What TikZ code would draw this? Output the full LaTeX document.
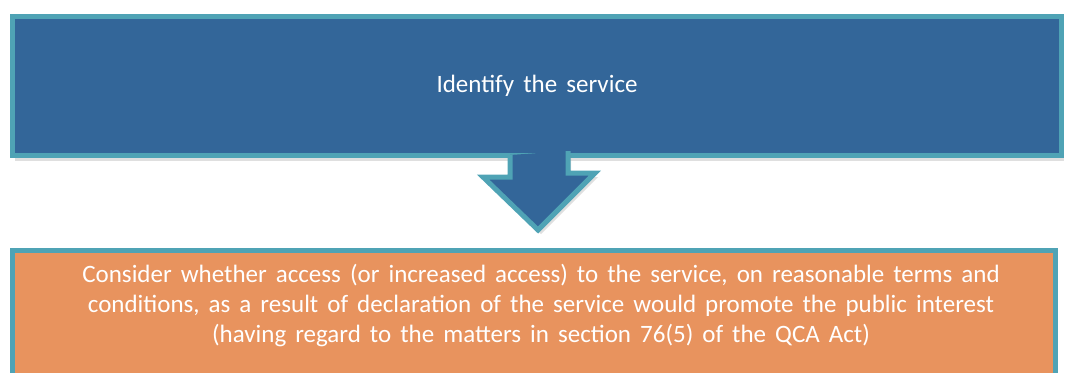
\documentclass[tikz,border=0pt]{standalone}
\usepackage{fontspec}
\setmainfont{Carlito}
\newfontfamily\stepfont[WordSpace=1.6]{Carlito}
\usepackage{xcolor}
\usetikzlibrary{positioning, shadows}
\definecolor{edgeteal}{HTML}{4FA3B5}
\definecolor{stepblue}{HTML}{336699}
\definecolor{steporange}{HTML}{E8935E}
\tikzset{
  stepbox/.style={rectangle, draw=edgeteal, line width=5pt,
                  drop shadow={opacity=0.25, shadow xshift=2pt, shadow yshift=-5pt}},
  steptext/.style={text=white, align=center, inner sep=0pt,
                   font=\stepfont\fontsize{25}{30}\selectfont},
  downarrow/.style={draw=edgeteal, line width=5pt, fill=stepblue, line join=miter,
                    drop shadow={opacity=0.25, shadow xshift=3pt, shadow yshift=-4pt}},
}

\begin{document}
\begin{tikzpicture}[x=1pt, y=-1pt]
\useasboundingbox (0,0) rectangle (1065,372);
% first step
\node[stepbox, steptext, fill=stepblue, minimum width=1049pt, minimum height=139pt] (service) at (537,86) {Identify the service};
% second step, runs off the bottom edge; its text sits near the top
\node[stepbox, fill=steporange, minimum width=1043pt, minimum height=150pt] (consider) at (534,325.5) {};
\node[steptext, below=16pt of consider.north, xshift=7pt] (considertext)
  {Consider whether access (or increased access) to the service, on reasonable terms and\\
   conditions, as a result of declaration of the service would promote the public interest\\
   (having regard to the matters in section 76(5) of the QCA Act)};
% block arrow between the two
\coordinate (tip) at ([xshift=4pt, yshift=18pt]consider.north);
\draw[downarrow] ([xshift=-27pt, yshift=3pt]service.south) -- ++(0,22) -- ++(-27,0)
  -- (tip) -- ++(57,-57) -- ++(-27,0) -- ++(0,-22);
\end{tikzpicture}
\end{document}
